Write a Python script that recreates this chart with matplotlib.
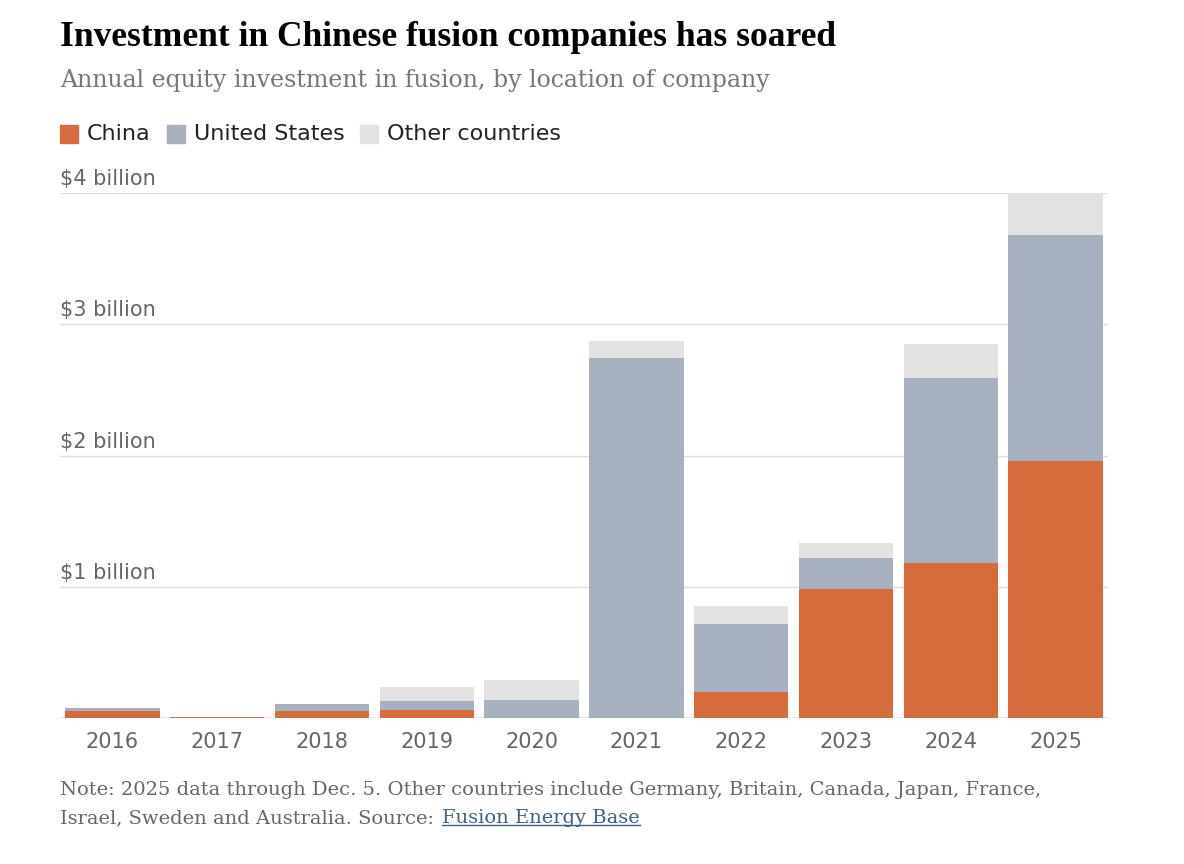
import matplotlib.pyplot as plt
from matplotlib.patches import Rectangle
from matplotlib.lines import Line2D

years = ["2016", "2017", "2018", "2019", "2020", "2021", "2022", "2023", "2024", "2025"]
china = [0.05, 0.005, 0.05, 0.06, 0.0, 0.0, 0.20, 0.98, 1.18, 1.96]
us = [0.03, 0.003, 0.06, 0.07, 0.14, 2.74, 0.52, 0.24, 1.41, 1.72]
other = [0.0, 0.002, 0.0, 0.11, 0.15, 0.13, 0.13, 0.11, 0.26, 0.32]
tick_vals = [1, 2, 3, 4]
tick_labels = ["$1 billion", "$2 billion", "$3 billion", "$4 billion"]

C_CHINA, C_US, C_OTHER = "#d66c3b", "#a6b0be", "#e2e2e2"
GREY = "#666666"

fig = plt.figure(figsize=(11.84, 8.64), dpi=100)
ax = fig.add_axes([60 / 1184, 1 - 718 / 864, 1048 / 1184, 525 / 864])

x = range(len(years))
ax.bar(x, china, width=0.9, color=C_CHINA, zorder=3)
ax.bar(x, us, width=0.9, bottom=china, color=C_US, zorder=3)
ax.bar(x, other, width=0.9, bottom=[c + u for c, u in zip(china, us)], color=C_OTHER, zorder=3)

ax.set_xlim(-0.5, len(years) - 0.5)
ax.set_ylim(0, 4)
for v, lab in zip(tick_vals, tick_labels):
    ax.axhline(v, color="#dddddd", lw=1, zorder=1)
    ax.text(-0.5, v + 0.03, lab, fontsize=15, color=GREY, ha="left", va="bottom")
ax.axhline(0, color="#888888", lw=1, zorder=4)
ax.set_yticks([])
ax.set_xticks(list(x))
ax.set_xticklabels(years, fontsize=15, color=GREY)
ax.tick_params(axis="x", length=0, pad=10)
for s in ax.spines.values():
    s.set_visible(False)

fig.text(60 / 1184, 1 - 37 / 864, "Investment in Chinese fusion companies has soared",
         fontsize=25.5, fontweight="bold", family="Liberation Serif", va="center")
fig.text(60 / 1184, 1 - 80 / 864, "Annual equity investment in fusion, by location of company",
         fontsize=17, family="DejaVu Serif", color="#777777", va="center")

lx = 60
for lab, col, w in [("China", C_CHINA, 107), ("United States", C_US, 193), ("Other countries", C_OTHER, 0)]:
    fig.patches.append(Rectangle((lx / 1184, 1 - 143 / 864), 18 / 1184, 18 / 864,
                                 color=col, transform=fig.transFigure))
    fig.text((lx + 27) / 1184, 1 - 134 / 864, lab, fontsize=16, va="center", color="#222222")
    lx += w

fig.text(60 / 1184, 1 - 790 / 864,
         "Note: 2025 data through Dec. 5. Other countries include Germany, Britain, Canada, Japan, France,",
         fontsize=14, family="DejaVu Serif", color=GREY, va="center")
fig.text(60 / 1184, 1 - 818 / 864, "Israel, Sweden and Australia. Source:",
         fontsize=14, family="DejaVu Serif", color=GREY, va="center")
src = fig.text(442 / 1184, 1 - 818 / 864, "Fusion Energy Base",
               fontsize=14, family="DejaVu Serif", color="#3f5f7f", va="center")
fig.canvas.draw()
bb = src.get_window_extent().transformed(fig.transFigure.inverted())
fig.lines.append(Line2D([bb.x0, bb.x1], [bb.y0 + 0.002, bb.y0 + 0.002], color="#3f5f7f",
                        lw=1, transform=fig.transFigure))

fig.savefig("out.png", dpi=100)
